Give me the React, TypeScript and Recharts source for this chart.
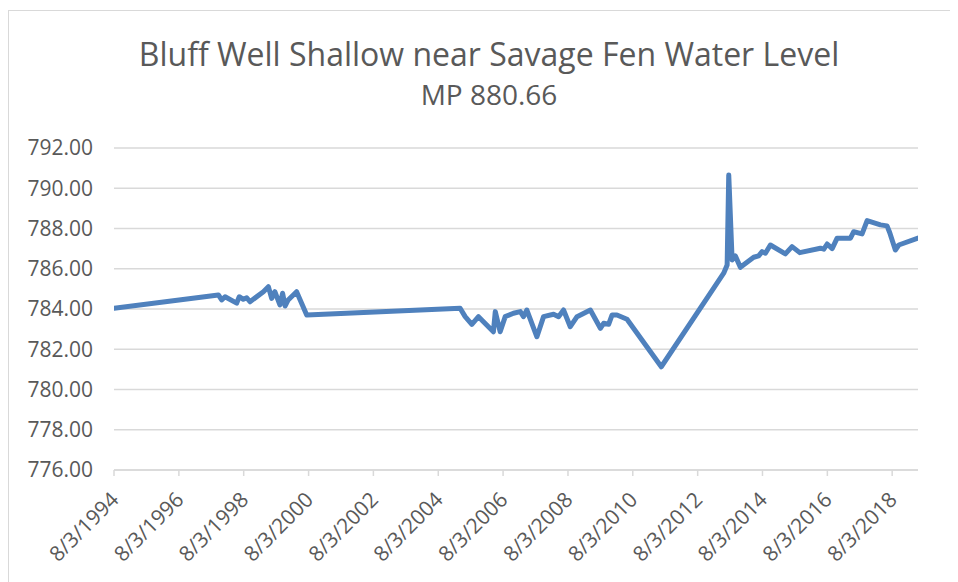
import React from 'react';
import { LineChart, Line, XAxis, YAxis, CartesianGrid } from 'recharts';

const dates = [
  '1994-08-03', '1997-10-22', '1997-11-28', '1998-01-05', '1998-05-16', '1998-06-14',
  '1998-07-30', '1998-09-06', '1998-10-13', '1999-03-13', '1999-05-08', '1999-06-14',
  '1999-07-20', '1999-09-15', '1999-10-15', '1999-11-13', '1999-12-17', '2000-03-21',
  '2000-07-13', '2005-04-06', '2005-06-02', '2005-08-16', '2005-10-30', '2006-04-16',
  '2006-05-07', '2006-07-01', '2006-08-27', '2006-11-28', '2007-02-13', '2007-03-21',
  '2007-04-28', '2007-08-19', '2007-11-02', '2008-02-23', '2008-04-19', '2008-06-14',
  '2008-08-29', '2008-11-13', '2009-04-12', '2009-08-03', '2009-09-09', '2009-11-04',
  '2009-12-12', '2010-02-06', '2010-05-30', '2011-06-20', '2013-05-23', '2013-07-01',
  '2013-07-19', '2013-08-26', '2013-10-01', '2013-11-27', '2014-04-26', '2014-06-21',
  '2014-07-30', '2014-09-05', '2014-10-31', '2015-04-18', '2015-07-02', '2015-09-27',
  '2016-05-17', '2016-06-24', '2016-08-01', '2016-09-26', '2016-11-21', '2017-04-20',
  '2017-05-27', '2017-08-29', '2017-10-25', '2018-03-24', '2018-06-06', '2018-07-06',
  '2018-09-08', '2018-10-16', '2019-05-21',
];

const waterLevel = [
  784.04, 784.70, 784.45, 784.61, 784.29, 784.61,
  784.48, 784.56, 784.36, 784.86, 785.11, 784.53,
  784.86, 784.20, 784.78, 784.15, 784.45, 784.86,
  783.70, 784.04, 783.62, 783.24, 783.62, 782.87,
  783.87, 782.87, 783.62, 783.79, 783.87, 783.62,
  783.95, 782.62, 783.62, 783.74, 783.62, 783.95,
  783.12, 783.62, 783.95, 783.04, 783.29, 783.24,
  783.70, 783.70, 783.49, 781.13, 785.78, 786.19,
  790.66, 786.44, 786.64, 786.07, 786.57, 786.64,
  786.85, 786.77, 787.18, 786.74, 787.10, 786.80,
  787.02, 786.97, 787.23, 787.00, 787.52, 787.52,
  787.84, 787.73, 788.39, 788.18, 788.13, 787.80,
  786.93, 787.18, 787.52,
];

const xTickLabels = [
  '8/3/1994', '8/3/1996', '8/3/1998', '8/3/2000', '8/3/2002', '8/3/2004', '8/3/2006',
  '8/3/2008', '8/3/2010', '8/3/2012', '8/3/2014', '8/3/2016', '8/3/2018',
];

const yTicks = [776, 778, 780, 782, 784, 786, 788, 790, 792];

const titleText = 'Bluff Well Shallow near Savage Fen Water Level';
const subtitleText = 'MP 880.66';

const parseMDY = (s: string) => {
  const [m, d, y] = s.split('/').map(Number);
  return Date.UTC(y, m - 1, d);
};

const data = dates.map((d, i) => ({ t: Date.parse(d), v: waterLevel[i] }));
const xTicks = xTickLabels.map(parseMDY);
const xDomain = [data[0].t, data[data.length - 1].t];

const FONT = '"Open Sans", sans-serif';
const GREY = '#595959';

const XTick = (props: any) => {
  const { x, y, index } = props;
  return (
    <g transform={`translate(${x + 6},${y + 23}) rotate(-45)`}>
      <text x={0} y={0} textAnchor="end" fill={GREY} fontSize={21} fontFamily={FONT}>
        {xTickLabels[index]}
      </text>
    </g>
  );
};

export default function App() {
  return (
    <div
      style={{
        position: 'relative',
        top: 2,
        width: 962,
        height: 600,
        border: '1px solid #d9d9d9',
        boxSizing: 'border-box',
        background: '#fff',
      }}
    >
      <svg
        width={960}
        height={120}
        style={{ position: 'absolute', left: 0, top: 0 }}
      >
        <text x={480} y={55} textAnchor="middle" fill={GREY} fontSize={32} fontFamily={FONT}>
          {titleText}
        </text>
        <text x={480} y={94} textAnchor="middle" fill={GREY} fontSize={28} fontFamily={FONT}>
          {subtitleText}
        </text>
      </svg>
      <LineChart
        width={960}
        height={598}
        data={data}
        margin={{ top: 137, right: 51, bottom: 39, left: 0 }}
      >
        <CartesianGrid vertical={false} stroke="#d9d9d9" strokeWidth={1.5} />
        <XAxis
          dataKey="t"
          type="number"
          scale="time"
          domain={xDomain}
          ticks={xTicks}
          interval={0}
          height={100}
          stroke="#d9d9d9"
          strokeWidth={1.5}
          tickSize={6}
          tick={<XTick />}
          allowDataOverflow
        />
        <YAxis
          type="number"
          domain={[776, 792]}
          ticks={yTicks}
          interval={0}
          width={105}
          axisLine={false}
          tickLine={false}
          tickSize={6}
          tickMargin={15}
          tickFormatter={(v: number) => v.toFixed(2)}
          tick={{ fill: GREY, fontSize: 21, fontFamily: FONT }}
        />
        <Line
          type="linear"
          dataKey="v"
          stroke="#4f81bd"
          strokeWidth={5}
          strokeLinejoin="round"
          strokeLinecap="round"
          dot={false}
          isAnimationActive={false}
        />
      </LineChart>
    </div>
  );
}
